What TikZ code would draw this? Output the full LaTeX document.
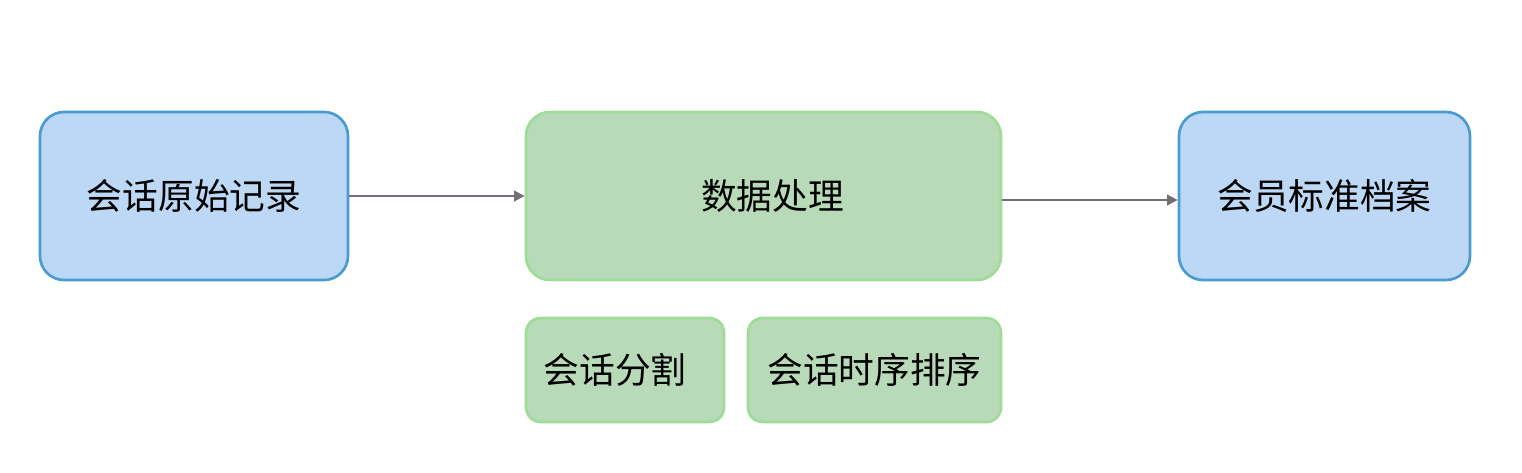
\documentclass[tikz,border=0pt]{standalone}
\usepackage{fontspec}
\setmainfont{Noto Sans CJK SC}
\usetikzlibrary{arrows.meta}
\definecolor{bluefill}{HTML}{BDD8F4}
\definecolor{bluedraw}{HTML}{4A9BD1}
\definecolor{greenfill}{HTML}{B8DAB8}
\definecolor{greendraw}{HTML}{9EDC98}
\definecolor{arrowgray}{HTML}{766D78}
\begin{document}
\begin{tikzpicture}[x=0.75pt,y=-0.75pt,
  bluebox/.style={draw=bluedraw,fill=bluefill,line width=2pt,rounded corners=18pt,inner sep=0pt,font=\fontsize{26.8pt}{31pt}\selectfont},
  greenbox/.style={draw=greendraw,fill=greenfill,line width=2pt,rounded corners=18pt,inner sep=0pt,font=\fontsize{26.8pt}{31pt}\selectfont},
  smallbox/.style={greenbox,rounded corners=11pt},
  conn/.style={draw=arrowgray,line width=1.6pt,-{Triangle[length=8pt,width=8pt]}}]
\useasboundingbox[fill=white] (0,0) rectangle (1522,472);
\node[bluebox,minimum width=231pt,minimum height=126pt] (A) at (194,196) {会话原始记录};
\node[greenbox,minimum width=356.25pt,minimum height=126pt] (B) at (763.5,196) {\hspace*{13.5pt}数据处理};
\node[bluebox,minimum width=218.25pt,minimum height=126pt] (C) at (1324.5,196) {会员标准档案};
\node[smallbox,minimum width=148.5pt,minimum height=78pt] (D) at (625,370) {会话分割\hspace*{15pt}};
\node[smallbox,minimum width=189.75pt,minimum height=78pt] (E) at (874.5,370) {会话时序排序};
\draw[conn] (A.east) -- (B.west);
\draw[conn] ([yshift=-3pt]B.east) -- ([yshift=-3pt]C.west);
\end{tikzpicture}
\end{document}
